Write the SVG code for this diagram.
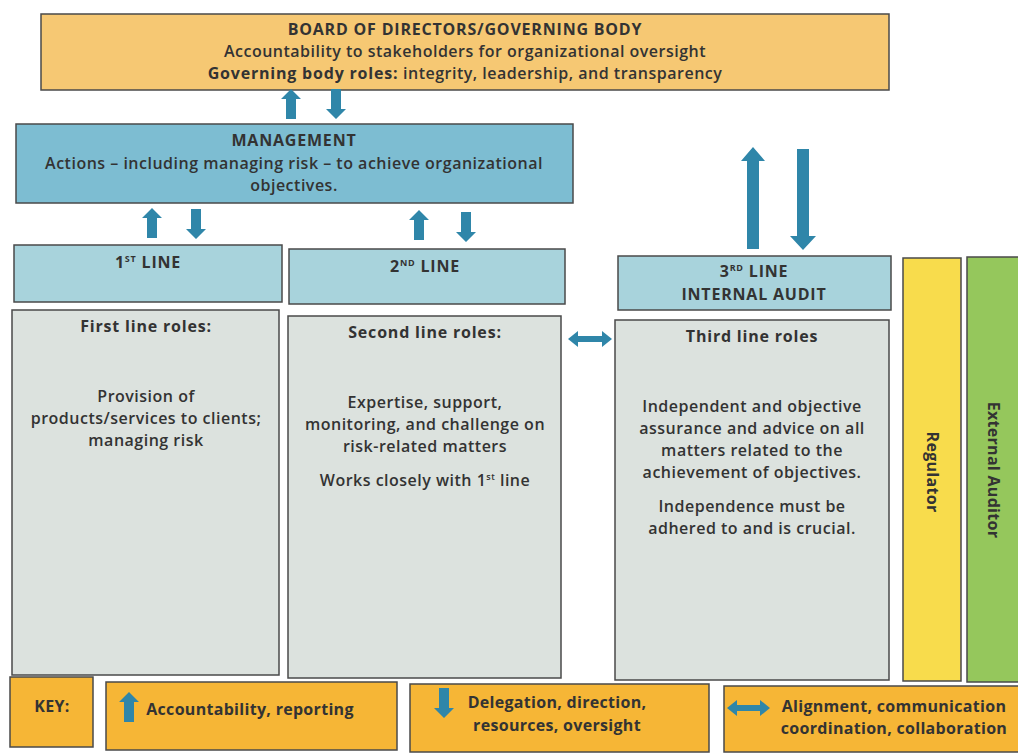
<svg xmlns="http://www.w3.org/2000/svg" width="1018" height="753" viewBox="0 0 1018 753">
<style>
text{font-family:"Open Sans",Lato,"Liberation Sans",sans-serif;fill:#333;text-anchor:middle;font-size:16px;font-weight:600;letter-spacing:0.5px}
.b{font-weight:bold;letter-spacing:0.8px}
.k{font-weight:bold;letter-spacing:0.3px}
.box{stroke:#4a4a4a;stroke-width:1.5}
.board{fill:#F6C873}
.mgmt{fill:#7DBDD2}
.line{fill:#A8D3DC}
.role{fill:#DCE2DE}
.reg{fill:#F8DC4C}
.ext{fill:#95C75C}
.key{fill:#F6B636}
.arr{fill:#2F86A9}
</style>
<defs>
<path id="up" d="M-5,0 L-5,-20 L-10,-20 L0,-30 L10,-20 L5,-20 L5,0 Z"/>
<path id="dn" d="M-5,0 L-5,20 L-10,20 L0,30 L10,20 L5,20 L5,0 Z"/>
</defs>
<g id="board">
<rect class="box board" x="41" y="14" width="848" height="76"/>
<text class="b" x="465" y="35">BOARD OF DIRECTORS/GOVERNING BODY</text>
<text x="465" y="57">Accountability to stakeholders for organizational oversight</text>
<text x="465" y="79"><tspan class="b">Governing body roles:</tspan> integrity, leadership, and transparency</text>
</g>
<g id="management">
<rect class="box mgmt" x="16" y="124" width="557" height="79"/>
<text class="b" x="294" y="146">MANAGEMENT</text>
<text x="294" y="169">Actions – including managing risk – to achieve organizational</text>
<text x="294" y="191">objectives.</text>
</g>
<g id="line1">
<rect class="box line" x="14" y="245" width="268" height="57"/>
<text class="b" x="148" y="268">1<tspan font-size="9" dy="-6">ST</tspan><tspan dy="6"> LINE</tspan></text>
</g>
<g id="line2">
<rect class="box line" x="289" y="249" width="276" height="55"/>
<text class="b" x="425" y="272">2<tspan font-size="9" dy="-6">ND</tspan><tspan dy="6"> LINE</tspan></text>
</g>
<g id="line3">
<rect class="box line" x="618" y="256" width="273" height="54"/>
<text class="b" x="754" y="277">3<tspan font-size="9" dy="-6">RD</tspan><tspan dy="6"> LINE</tspan></text>
<text class="b" x="754" y="300">INTERNAL AUDIT</text>
</g>
<g id="roles1">
<rect class="box role" x="12" y="310" width="267" height="365"/>
<text class="b" x="146" y="332">First line roles:</text>
<text x="146" y="402">Provision of</text>
<text x="146" y="424">products/services to clients;</text>
<text x="146" y="446">managing risk</text>
</g>
<g id="roles2">
<rect class="box role" x="288" y="316" width="273" height="362"/>
<text class="b" x="425" y="338">Second line roles:</text>
<text x="425" y="408">Expertise, support,</text>
<text x="425" y="430">monitoring, and challenge on</text>
<text x="425" y="452">risk-related matters</text>
<text x="425" y="486">Works closely with 1<tspan font-size="9" dy="-6">st</tspan><tspan dy="6"> line</tspan></text>
</g>
<g id="roles3">
<rect class="box role" x="615" y="320" width="274" height="360"/>
<text class="b" x="752" y="342">Third line roles</text>
<text x="752" y="412">Independent and objective</text>
<text x="752" y="434">assurance and advice on all</text>
<text x="752" y="456">matters related to the</text>
<text x="752" y="478">achievement of objectives.</text>
<text x="752" y="512">Independence must be</text>
<text x="752" y="534">adhered to and is crucial.</text>
</g>
<g id="regulator">
<rect class="box reg" x="903" y="258" width="58" height="423"/>
<text class="k" transform="translate(927,472) rotate(90)">Regulator</text>
</g>
<g id="external-auditor">
<rect class="box ext" x="967" y="257" width="56" height="425"/>
<text class="k" transform="translate(988,470) rotate(90)">External Auditor</text>
</g>
<g id="key">
<rect class="box key" x="10" y="677" width="83" height="70"/>
<text class="k" x="52" y="712">KEY:</text>
<rect class="box key" x="106" y="682" width="291" height="68"/>
<use href="#up" class="arr" transform="translate(129,722)"/>
<text class="k" x="250" y="715">Accountability, reporting</text>
<rect class="box key" x="410" y="684" width="299" height="68"/>
<use href="#dn" class="arr" transform="translate(444,688)"/>
<text class="k" x="557" y="708">Delegation, direction,</text>
<text class="k" x="557" y="731">resources, oversight</text>
<rect class="box key" x="724" y="686" width="300" height="66"/>
<path class="arr" d="M727,708 L737,700 L737,705 L760,705 L760,700 L770,708 L760,716 L760,711 L737,711 L737,716 Z"/>
<text class="k" x="894" y="712">Alignment, communication</text>
<text class="k" x="894" y="734">coordination, collaboration</text>
</g>
<g id="connectors">
<use href="#up" class="arr" transform="translate(291,119)"/>
<use href="#dn" class="arr" transform="translate(336,89)"/>
<use href="#up" class="arr" transform="translate(152,238)"/>
<use href="#dn" class="arr" transform="translate(196,209)"/>
<use href="#up" class="arr" transform="translate(419,240)"/>
<use href="#dn" class="arr" transform="translate(466,212)"/>
<path class="arr" d="M747,249 L747,161 L741,161 L753,147 L765,161 L759,161 L759,249 Z"/>
<path class="arr" d="M797,149 L797,236 L790,236 L803,250 L816,236 L809,236 L809,149 Z"/>
<path class="arr" d="M568,339 L578,331 L578,336 L602,336 L602,331 L612,339 L602,347 L602,342 L578,342 L578,347 Z"/>
</g>
</svg>
